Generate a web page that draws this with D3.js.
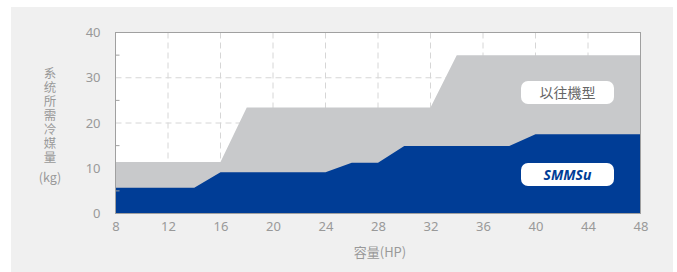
<!DOCTYPE html>
<html><head><meta charset="utf-8">
<script src="https://cdn.jsdelivr.net/npm/d3@7"></script>
<style>
html,body{margin:0;padding:0;background:#fff;}
svg{display:block;font-family:"Noto Sans CJK TC","Noto Sans",sans-serif;}
</style></head>
<body>
<svg id="c" width="677" height="272"></svg>
<script>
const xTicks = [8,12,16,20,24,28,32,36,40,44,48];
const yTicks = [0,10,20,30,40];
const yMinorTicks = [5,15,25,35];
const prevHP  = [8,16,18,32,34,48];
const prevKg  = [11.4,11.4,23.4,23.4,35,35];
const smmsHP  = [8,14,16,24,26,28,30,38,40,48];
const smmsKg  = [5.7,5.7,9.1,9.1,11.2,11.2,14.9,14.9,17.5,17.5];
const seriesNames = ["以往機型","SMMSu"];
const yTitle = "系统所需冷媒量";
const yTitleUnit = "(kg)";
const xTitle = "容量(HP)";

const svg = d3.select("#c");
svg.append("rect").attr("x",11).attr("y",7).attr("width",662).attr("height",265).attr("fill","#f0f0f0");

const x = d3.scaleLinear().domain([8,48]).range([115.5,640.5]);
const y = d3.scaleLinear().domain([0,40]).range([213.5,32.5]);

const g = svg.append("g");
g.append("rect").attr("x",x(8)).attr("y",y(40)).attr("width",x(48)-x(8)).attr("height",y(0)-y(40)).attr("fill","#fff");

// grid
g.selectAll(".vg").data(xTicks.slice(1,-1)).join("line")
 .attr("x1",d=>x(d)).attr("x2",d=>x(d)).attr("y1",y(40)).attr("y2",y(0))
 .attr("stroke","#d6d6d6").attr("stroke-dasharray","6,4");
g.selectAll(".hg").data(yTicks.slice(1,-1)).join("line")
 .attr("x1",x(8)).attr("x2",x(48)).attr("y1",d=>y(d)).attr("y2",d=>y(d))
 .attr("stroke","#d6d6d6").attr("stroke-dasharray","6,4");

const area = d3.area().x(d=>x(d[0])).y0(y(0)).y1(d=>y(d[1]));
g.append("path").datum(prevHP.map((h,i)=>[h,prevKg[i]])).attr("d",area).attr("fill","#c8c9cb");
g.append("path").datum(smmsHP.map((h,i)=>[h,smmsKg[i]])).attr("d",area).attr("fill","#003d96");

// frame
g.append("rect").attr("x",x(8)).attr("y",y(40)).attr("width",x(48)-x(8)).attr("height",y(0)-y(40))
 .attr("fill","none").attr("stroke","#a0a0a0").attr("stroke-width",1);

// minor ticks
g.selectAll(".mt").data(yMinorTicks).join("line")
 .attr("x1",x(8)).attr("x2",x(8)+4).attr("y1",d=>y(d)).attr("y2",d=>y(d)).attr("stroke","#a0a0a0");

// axes
const yAxis = d3.axisLeft(y).tickValues(yTicks).tickSize(0).tickPadding(15);
const ya = svg.append("g").attr("transform",`translate(${x(8)},0)`).call(yAxis);
ya.select(".domain").remove();
ya.selectAll("text").attr("fill","#999").style("font-size","13px").style("font-family","'Noto Sans',sans-serif");

const xAxis = d3.axisBottom(x).tickValues(xTicks).tickSize(0).tickPadding(8);
const xa = svg.append("g").attr("transform",`translate(0,${y(0)})`).call(xAxis);
xa.select(".domain").remove();
xa.selectAll("text").attr("fill","#999").style("font-size","13px").style("font-family","'Noto Sans',sans-serif");

svg.append("text").attr("x",380).attr("y",257).attr("text-anchor","middle").attr("fill","#999")
 .style("font-size","13px").text(xTitle);

svg.append("text").attr("x",50).attr("y",66.5)
 .attr("fill","#999").style("font-size","12.5px")
 .style("writing-mode","vertical-rl").style("text-orientation","upright")
 .style("letter-spacing","1.5px").text(yTitle);
svg.append("text").attr("x",50).attr("y",182).attr("text-anchor","middle").attr("fill","#999")
 .style("font-size","12.5px").text(yTitleUnit);

// labels
const labels = [
 {t:seriesNames[0], cy:92.5, color:"#666", style:"normal", weight:"normal", family:"'Noto Sans CJK TC',sans-serif"},
 {t:seriesNames[1], cy:174.5, color:"#003d96", style:"italic", weight:"bold", family:"'Noto Sans',sans-serif"}
];
labels.forEach(l=>{
  svg.append("rect").attr("x",521).attr("y",l.cy-11.5).attr("width",93).attr("height",23).attr("rx",7).attr("fill","#fff");
  svg.append("text").attr("x",567.5).attr("y",l.cy+5).attr("text-anchor","middle").attr("fill",l.color)
   .style("font-size","14px").style("font-style",l.style).style("font-weight",l.weight).style("font-family",l.family).text(l.t);
});
</script>
</body></html>
